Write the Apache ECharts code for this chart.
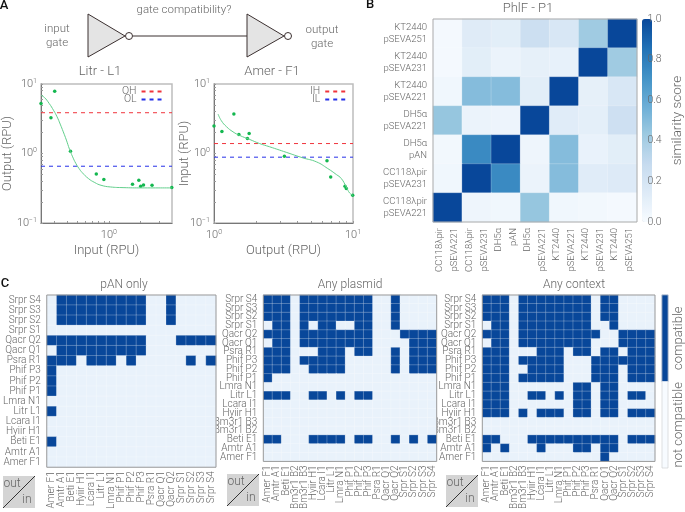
<!DOCTYPE html>
<html><head><meta charset="utf-8">
<style>html,body{margin:0;padding:0;background:#fff}#c{width:685px;height:512px}</style>
<script src="https://cdn.jsdelivr.net/npm/echarts@6/dist/echarts.min.js"></script>
</head><body><div id="c"></div>
<script>
// ---------- Panel A data ----------
const litrPoints=[[0.225,5.26],[0.28,3.27],[0.304,7.84],[0.43,1.08],[0.758,0.509],[0.895,0.422],[1.68,0.361],[1.93,0.412],[2.01,0.338],[2.14,0.353],[2.58,0.349],[3.98,0.323]];
const litrCurve=[[0.225,6.87],[0.242,6.42],[0.269,5.26],[0.298,4.12],[0.32,3.38],[0.343,2.65],[0.367,2.05],[0.393,1.56],[0.421,1.15],[0.451,0.895],[0.484,0.718],[0.519,0.608],[0.556,0.532],[0.638,0.436],[0.733,0.382],[0.841,0.349],[1.035,0.33],[1.365,0.323],[2.07,0.32],[4,0.32]];
const litrOH=3.86, litrOL=0.656;
const amerPoints=[[1,2.48],[1.14,2.08],[1.39,3.69],[1.51,1.88],[1.74,1.64],[1.79,1.94],[3.21,0.916],[6.5,0.784],[6.91,0.46],[8.76,0.338],[8.95,0.313],[9.95,0.251]];
const amerCurve=[[1.07,3.69],[1.13,2.96],[1.23,2.43],[1.37,2.05],[1.53,1.82],[1.81,1.59],[2.13,1.39],[2.51,1.25],[3.31,1.04],[4.35,0.866],[5.45,0.759],[6.58,0.608],[7.59,0.498],[8.24,0.436],[8.95,0.33],[9.46,0.27],[10,0.25]];
const amerIH=1.39, amerIL=0.885;
// ---------- Panel B data ----------
const similarityLabels=['CC118λpir\npSEVA221','CC118λpir\npSEVA231','DH5α\npAN','DH5α\npSEVA221','KT2440\npSEVA221','KT2440\npSEVA231','KT2440\npSEVA251'];
const similarityRows=[ // top row first, reading left to right
 [0.02,0.14,0.12,0.25,0.18,0.42,1.0],
 [0.02,0.12,0.07,0.10,0.09,1.0,0.42],
 [0.04,0.50,0.50,0.12,1.0,0.10,0.18],
 [0.45,0.07,0.06,1.0,0.13,0.11,0.24],
 [0.03,0.75,1.0,0.05,0.50,0.08,0.12],
 [0.04,1.0,0.75,0.07,0.50,0.13,0.15],
 [1.0,0.05,0.04,0.45,0.04,0.03,0.02]];
const similarityTicks=[0,0.2,0.4,0.6,0.8,1];
// ---------- Panel C data ----------
const panAnGates=['Amer F1','Amtr A1','Beti E1','Hyiir H1','Lcara I1','Litr L1','Lmra N1','Phif P1','Phif P2','Phif P3','Psra R1','Qacr Q1','Qacr Q2','Srpr S1','Srpr S2','Srpr S3','Srpr S4'];
const allGates=['Amer F1','Amtr A1','Beti E1','Bm3r1 B2','Bm3r1 B3','Hyiir H1','Lcara I1','Litr L1','Lmra N1','Phif P1','Phif P2','Phif P3','Psra R1','Qacr Q1','Qacr Q2','Srpr S1','Srpr S2','Srpr S3','Srpr S4'];
const panAnCells=[ // rows top (Srpr S4) to bottom (Amer F1): compatible column indices
 [1,2,3,4,5,6,7,8,9,12],[1,2,3,4,5,6,7,8,9,12],[1,2,3,4,5,6,7,8,9,12],[],
 [0,1,2,3,4,5,6,7,8,9,13,14,15,16],[1,2,3,4,5,6,7,8,9],[0,1,2,4,5,6,8,14,16],
 [0],[0],[0],[],[0],[],[],[0],[],[]];
const plasmidCells=[
 [0,1,2,4,5,6,7,8,9,10,11,14],[0,1,2,4,5,6,7,8,9,10,11,14],[0,1,2,4,5,6,7,8,9,10,11,14],
 [1,2,4,6,7,10,11,14],
 [0,1,2,4,5,6,7,8,9,10,11,15,16,17,18],[1,2,4,5,6,7,8,9,10,11,16,17,18],
 [0,1,2,6,7,8,10,11,14,16,17,18],[0,1,2,4,5,6,7,8,14,16,17,18],[0,1,2,5,6,7,8,14,16,17,18],
 [0],[],[0,1,2,5,6,8,10,11],[],[],[],[],[0,1,5,6,7,8,10,11,14,16,18],[],[]];
const contextCells=[
 [0,1,2,4,5,6,7,8,9,10,11,13,14],[0,1,2,4,5,6,7,8,9,10,11,13,14],[0,1,2,4,5,6,7,8,9,10,11,13,14],
 [1,2,4,5,6,7,8,9,10,11,14],
 [0,1,2,4,5,6,7,8,9,10,11,12,15,16,17,18],[1,2,4,5,6,7,8,9,10,11,15,16,17,18],
 [0,1,2,6,7,8,10,11,13,14,16,17,18],[0,1,2,4,5,6,7,8,12,13,14,15,16,17,18],[0,1,2,5,6,7,8,12,13,14,16,17,18],
 [0,1,2,4,5,6,7,8,12,13,14,16,17,18],[0,1,2,10,11,13,14],[0,1,2,5,6,8,10,11,13,14,16,17],
 [0,1,2,10,11,13,14],[0,1,2,4,6,7,8,10,11,13,14,16,17,18],[],[],
 [0,1,5,6,7,8,9,10,11,12,13,14,16,17,18],[0,2,6,10,11,13,14],[13]];
const compatLegend=['compatible','not compatible'];

// ---------- Styling ----------
const FONT='Roboto', WEIGHT=300, GREY='#666';
const axisText=(size)=>({fontFamily:FONT,fontWeight:WEIGHT,fontSize:size,color:GREY});
const logMinorX=[0.3,0.4,0.5,0.6,0.7,0.8,0.9,1,2,3];
const logMinorY=[0.1,0.2,0.3,0.4,0.5,0.6,0.7,0.8,0.9,1,2,3,4,5,6,7,8,9,10];
const logMinorR=[1,2,3,4,5,6,7,8,9,10];
const grids=[],xAxes=[],yAxes=[],series=[],legends=[],titles=[],visualMaps=[];
const powFmt=v=>'{b|10}{s|'+(Math.round(Math.log10(v))===-1?'−1':Math.round(Math.log10(v)))+'}';
const powRich={b:axisText(11),s:{...axisText(7),padding:[0,0,6,0]}};

function logPanel(left,xMin,xMax,xTicks,xLabels,xName,yName,yNameGap,curve,points,high,low,highName,lowName,legendLeft){
  const g=grids.length;
  grids.push({left,top:84,width:139,height:139,show:true,borderColor:'#bdbdbd',borderWidth:1.5,backgroundColor:'transparent',z:0});
  xAxes.push({gridIndex:g,type:'log',logBase:10,min:xMin,max:xMax,splitLine:{show:false},
    axisLine:{onZero:false,lineStyle:{color:'#777',width:1}},
    axisTick:{show:true,inside:true,length:2,lineStyle:{color:'#999'},customValues:xTicks},
    axisLabel:{customValues:xLabels,formatter:powFmt,rich:powRich,margin:6,showMinLabel:true,showMaxLabel:true},
    name:xName,nameLocation:'middle',nameGap:21,nameMoveOverlap:false,nameTextStyle:axisText(13)});
  yAxes.push({gridIndex:g,type:'log',logBase:10,min:0.1,max:10,splitLine:{show:false},
    axisLine:{onZero:false,lineStyle:{color:'#777',width:1}},
    axisTick:{show:true,inside:true,length:2,lineStyle:{color:'#999'},customValues:logMinorY},
    axisLabel:{customValues:[0.1,1,10],formatter:powFmt,rich:powRich,margin:4,showMinLabel:true,showMaxLabel:true},
    name:yName,nameLocation:'middle',nameGap:yNameGap,nameRotate:90,nameMoveOverlap:false,nameTextStyle:axisText(13)});
  const base={xAxisIndex:g,yAxisIndex:g,silent:true,animation:false};
  series.push({...base,type:'line',name:highName,data:[[xMin,high],[xMax,high]],symbol:'none',lineStyle:{color:'#f0343c',width:1,type:[4,4]},itemStyle:{color:'#f0343c'}});
  series.push({...base,type:'line',name:lowName,data:[[xMin,low],[xMax,low]],symbol:'none',lineStyle:{color:'#2530e8',width:1,type:[4,4]},itemStyle:{color:'#2530e8'}});
  series.push({...base,type:'line',data:curve,smooth:true,symbol:'none',lineStyle:{color:'#62cf8c',width:1}});
  series.push({...base,type:'scatter',data:points,symbolSize:3.5,itemStyle:{color:'#13b74f',opacity:1},clip:false});
  legends.push({data:[{name:highName},{name:lowName}],orient:'vertical',left:legendLeft,top:86,padding:0,align:'right',itemWidth:22,itemHeight:9,itemGap:-3,
    itemStyle:{color:'transparent',borderWidth:0,opacity:0},textStyle:{...axisText(10.5)},selectedMode:false});
}
logPanel(33,0.225,4,logMinorX,[1],'Input (RPU)','Output (RPU)',27,litrCurve,litrPoints,litrOH,litrOL,'OH','OL',122);
logPanel(214,1,10,logMinorR,[1,10],'Output (RPU)','Input (RPU)',23,amerCurve,amerPoints,amerIH,amerIL,'IH','IL',310);

// Panel B heatmap
{
  const g=grids.length;
  grids.push({left:433,top:19,width:204,height:203,show:true,borderColor:'#aaa',borderWidth:1,backgroundColor:'transparent',z:5});
  xAxes.push({gridIndex:g,type:'category',data:similarityLabels,axisLine:{show:false},axisTick:{show:false},
    axisLabel:{interval:0,rotate:90,margin:6,...axisText(9.5),lineHeight:15}});
  yAxes.push({gridIndex:g,type:'category',inverse:true,data:similarityLabels.slice().reverse(),axisLine:{show:false},axisTick:{show:false},
    axisLabel:{interval:0,margin:6,...axisText(9.5),lineHeight:11.5}});
  const cells=[];
  similarityRows.forEach((row,r)=>row.forEach((v,c)=>cells.push([c,r,v])));
  series.push({type:'heatmap',xAxisIndex:g,yAxisIndex:g,data:cells,silent:true,itemStyle:{borderColor:'rgba(255,255,255,0.35)',borderWidth:0.6}});
  visualMaps.push({type:'continuous',min:0,max:1,seriesIndex:series.length-1,show:true,left:642,top:19,itemWidth:10,itemHeight:203,padding:0,text:null,showLabel:false,calculable:false,hoverLink:false,
    textStyle:{color:'rgba(0,0,0,0)',fontSize:1},
    inRange:{color:['#f7fbff','#deebf7','#c6dbef','#9ecae1','#6baed6','#4292c6','#2171b5','#08479a']}});
  // colour bar axis
  const h=grids.length;
  grids.push({left:642,top:19,width:10,height:203,show:false,z:6});
  xAxes.push({gridIndex:h,type:'value',show:false,min:0,max:1});
  yAxes.push({gridIndex:h,type:'value',position:'right',min:similarityTicks[0],max:similarityTicks[similarityTicks.length-1],interval:0.2,splitLine:{show:false},axisLine:{show:false},axisTick:{show:false},z:20,
    axisLabel:{margin:3,...axisText(10.5),formatter:v=>v.toFixed(1)},
    name:'similarity score',nameLocation:'middle',nameRotate:90,nameGap:26,nameMoveOverlap:false,nameTextStyle:axisText(13.5)});
}
// Panel C matrices
function compatPanel(left,width,labels,cellLists){
  const g=grids.length;
  grids.push({left,top:295,width,height:173,show:true,borderColor:'#999',borderWidth:1,backgroundColor:'transparent',z:5});
  xAxes.push({gridIndex:g,type:'category',data:labels,axisLine:{show:false},axisTick:{show:false},
    axisLabel:{interval:0,rotate:90,margin:4,...axisText(10)}});
  yAxes.push({gridIndex:g,type:'category',inverse:true,data:labels.slice().reverse(),axisLine:{show:false},axisTick:{show:false},
    axisLabel:{interval:0,margin:6,...axisText(10)}});
  const cells=[];
  cellLists.forEach((cols,r)=>labels.forEach((_,c)=>cells.push([c,r,cols.includes(c)?1:0])));
  series.push({type:'heatmap',xAxisIndex:g,yAxisIndex:g,data:cells,silent:true,itemStyle:{borderColor:'rgba(255,255,255,0.35)',borderWidth:0.7}});
  return series.length-1;
}
const cSeries=[compatPanel(42,174,panAnGates,panAnCells),compatPanel(263.3,173.4,allGates,plasmidCells),compatPanel(482.3,172.7,allGates,contextCells)];
visualMaps.push({type:'piecewise',show:false,seriesIndex:cSeries,pieces:[{value:0,color:'#e9f2fb'},{value:1,color:'#08479a'}]});
// Panel C legend
{
  const g=grids.length;
  grids.push({left:662,top:295,width:8,height:173,show:true,borderColor:'#ccc',borderWidth:0.6,backgroundColor:'transparent',z:5});
  xAxes.push({gridIndex:g,type:'category',show:false,data:['']});
  yAxes.push({gridIndex:g,type:'category',inverse:true,position:'right',data:compatLegend,axisLine:{show:false},axisTick:{show:false},
    axisLabel:{interval:0,rotate:90,margin:4,...axisText(13)}});
  series.push({type:'heatmap',xAxisIndex:g,yAxisIndex:g,silent:true,data:compatLegend.map((n,i)=>({value:[0,i,i===0?1:0],itemStyle:{color:i===0?'#08479a':'#f7fbff'}}))});
}
// titles
[['Litr - L1',100,65,13],['Amer - F1',272,65,13],['PhlF - P1',528,2,13],['pAN only',124,279,12],['Any plasmid',350,279,12],['Any context',574,279,12]].forEach(t=>
  titles.push({text:t[0],left:t[1],top:t[2],textAlign:'center',padding:0,textStyle:{...axisText(t[3]),fontWeight:WEIGHT}}));

// graphics: gate schematic, corner boxes, panel letters
const ink='#3b3030';
function txt(t,x,y,size){return {type:'text',silent:true,style:{text:t,x,y,fill:GREY,font:WEIGHT+' '+size+'px '+FONT,textAlign:'center',textVerticalAlign:'middle'}};}
function gate(x){return [
 {type:'polygon',silent:true,shape:{points:[[x,14],[x,57],[x+37,36]]},style:{fill:'#e4e4e4',stroke:ink,lineWidth:1}},
 {type:'circle',silent:true,shape:{cx:x+41,cy:36,r:3.5},style:{fill:'#fff',stroke:ink,lineWidth:1}}];}
function corner(x,y){return [
 {type:'rect',silent:true,shape:{x,y,width:32,height:32},style:{fill:'#d4d4d4'}},
 {type:'line',silent:true,shape:{x1:x,y1:y+32,x2:x+32,y2:y},style:{stroke:'#333',lineWidth:1}},
 txt('out',x+9,y+8,12),txt('in',x+24,y+24,12)];}
const graphics=[...gate(88),...gate(247),
 {type:'line',silent:true,shape:{x1:133,y1:36,x2:247,y2:36},style:{stroke:ink,lineWidth:1}},
 txt('gate compatibility?',184,10,11.5),txt('input',57,29,11.5),txt('gate',57,43,11.5),txt('output',322,30,11.5),txt('gate',322,44,11.5),
 ...corner(3,476),...corner(227,474),...corner(446,475)];
[['A',4,6],['B',370,5],['C',5,284]].forEach(l=>graphics.push({type:'text',silent:true,style:{text:l[0],x:l[1],y:l[2],fill:'#111',font:'500 13px '+FONT,textAlign:'center',textVerticalAlign:'middle'}}));

const chart=echarts.init(document.getElementById('c'),null,{renderer:'canvas'});
chart.setOption({animation:false,backgroundColor:'#fff',tooltip:{show:false},title:titles,grid:grids,xAxis:xAxes,yAxis:yAxes,series,legend:legends,visualMap:visualMaps,graphic:{elements:graphics}});
</script></body></html>
